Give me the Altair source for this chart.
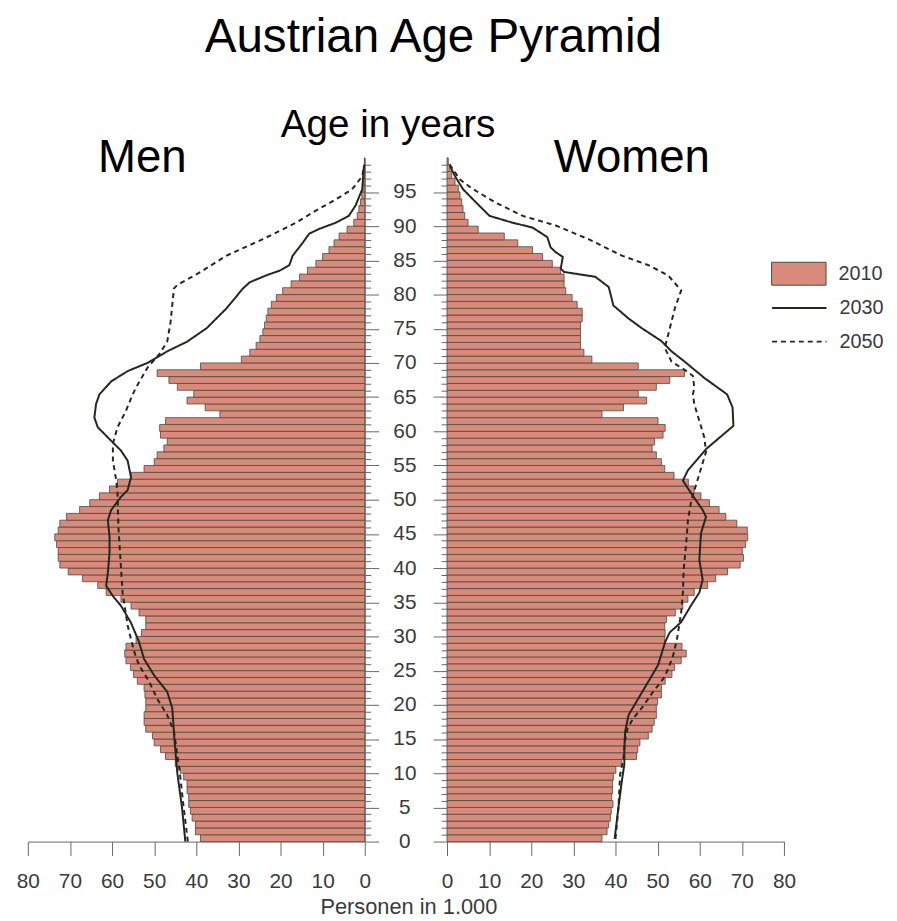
import altair as alt
import pandas as pd

# ---------------- data (thousands of persons) ----------------
ages = list(range(100))

men_2010 = [39, 40.2, 40.2, 41, 41.4, 41.8, 41.8, 42.2, 42.2, 43,
            43.8, 45, 47.3, 48.5, 50, 50.4, 52, 52.4, 52.4, 52,
            52, 52.2, 52.4, 54, 54.9, 55.6, 56.7, 57, 56.7, 54.3,
            53, 52, 52, 53.6, 55.5, 57.9, 61.4, 63.4, 67, 70.4,
            72.4, 72.8, 72.8, 73.2, 73.6, 72.8, 72.4, 70.8, 67.7, 65.3,
            63, 60.6, 58.7, 55.5, 52.4, 50, 49.3, 47.7, 46.9, 48.5,
            48.7, 47.3, 34.4, 37.9, 42.2, 40.6, 44.5, 46.5, 49.3, 39,
            29.3, 27.3, 25.8, 24.9, 24.2, 23.8, 23.4, 23, 22.2, 21,
            19.5, 17.5, 15.5, 13.6, 11.6, 10, 8.5, 7.3, 6.1, 4.2,
            2.6, 1.8, 1.4, 1.0, 0.7, 0.5, 0.35, 0.25, 0.15, 0.1]

women_2010 = [36.8, 38, 38.4, 38.8, 39, 39.4, 39.1, 39.3, 39.3, 39.5,
              40.1, 41.5, 45, 45.3, 45.8, 47.8, 48.7, 49.2, 49.7, 49.7,
              50, 50.9, 50.9, 51.8, 53.4, 54, 55.6, 56.8, 55.8, 51.7,
              51.8, 51.7, 52.1, 54.2, 56, 57.2, 58.7, 61.9, 63.8, 66.6,
              69.6, 70.4, 70.1, 70.9, 71.4, 71.3, 68.8, 66.2, 64.6, 62.3,
              60.3, 58.7, 57.3, 53.9, 51.7, 50.9, 49.7, 48.7, 49.3, 51.3,
              51.8, 50.1, 36.8, 41.9, 47.4, 45.4, 49.7, 52.9, 56.4, 45.4,
              34.4, 32.5, 31.7, 31.7, 31.7, 31.7, 32.1, 32.1, 30.9, 29.7,
              28.2, 27.8, 27.8, 27, 25, 22.7, 20.3, 16.8, 13.6, 7.4,
              5, 4.2, 3.8, 3.5, 3.1, 2.7, 1.9, 1.1, 0.7, 0.3]

men_2030_age = [0, 5, 10, 15, 19.5, 21.9, 24.3, 26.7, 29.2, 32, 34.5, 35.9, 37.4, 39.3,
                42.2, 44.6, 47, 48.5, 50.4, 51.4, 53.3, 55.7, 57.2, 58.6, 60.6, 62, 64,
                65.4, 67.3, 68.8, 70, 71.7, 73.1, 75.1, 78, 80.9, 81.8, 82.8, 83.5, 84.3,
                85.7, 87.6, 88.9, 89.6, 90.5, 91.5, 93, 95.4, 98.8]
men_2030 = [42.6, 43.4, 44.5, 45.2, 45.7, 46.9, 50, 52.4, 53.6, 55.5, 57.9, 59.8, 61.4, 61,
            60.6, 60.6, 61, 60.2, 57.9, 56.3, 55.5, 56.3, 57.9, 60.2, 63.4, 64.2, 63.8,
            63, 60.2, 56.3, 51.6, 46.9, 42.2, 37.5, 32.8, 28.9, 27.3, 23.4, 20.2, 17.9,
            17.1, 14.7, 13.2, 10.8, 6.9, 3.8, 2.2, 0.6, 0.2]

men_2050_age = [0, 5, 10, 16.1, 18.5, 20.9, 23.4, 25.8, 27.7, 29.6, 31.6, 36.4, 41.2, 46.1,
                50.9, 52.8, 55.7, 58.2, 60.6, 63, 65.4, 66.4, 69.3, 71.2, 73.1, 76, 78.5,
                80.9, 81.4, 83.3, 85.7, 88.1, 90.5, 92, 93.9, 95.4, 97.3, 99]
men_2050 = [42.0, 43, 43.9, 45.3, 46.9, 49.3, 51.2, 53.6, 54.7, 55.5, 56.3, 57.5, 58, 58.5,
            58.7, 59, 59.8, 59.8, 58.7, 56.7, 55.1, 54.3, 51.6, 48.9, 46.9, 46.1, 45.7,
            45.3, 44.5, 39, 32.8, 24.2, 16.3, 12.4, 6.9, 3, 0.6, 0.1]

women_2030_age = [0.4, 5, 8.8, 11.3, 13.7, 16.1, 18.5, 20.9, 23.4, 25.8, 29.2, 30.6, 32.1,
                  34.5, 36.4, 38.3, 41.2, 45.1, 47.5, 48.5, 50.9, 52.8, 54.3, 57.4, 60.8,
                  63.5, 65.4, 67.8, 70.2, 71.7, 73.2, 75.1, 76.5, 78.4, 81.1, 82.6, 83.3,
                  83.8, 85.5, 86.2, 86.9, 88.4, 89.8, 90.5, 91.5, 93.4, 95.4, 97.3, 98.8]
women_2030 = [39.8, 40.7, 41.5, 42.1, 42.1, 42.3, 43.1, 45.4, 47.8, 50.1, 51.8, 52.9, 55.6,
              57.9, 59.9, 60.7, 59.9, 60.3, 61.5, 60.7, 58, 56, 57.2, 61.5, 68,
              67.8, 66.5, 61.1, 56.4, 53.3, 50.9, 46.2, 43.1, 39.5, 38.4, 35.2, 27.8,
              27, 27.5, 25.8, 24.6, 23.8, 20.3, 15.6, 10.1, 7, 3.8, 1.9, 0.7]

women_2050_age = [0.4, 5, 9.8, 12.2, 14.9, 16.6, 18, 19.5, 21.7, 24.1, 27, 29.6, 33.5, 36.4,
                  39.8, 43.7, 47, 49.9, 52.1, 57, 59.1, 64, 65.4, 66.4, 68.1, 69, 70.2,
                  72.2, 74.1, 78, 80.6, 82.8, 84.3, 85.7, 88.1, 90.1, 91.5, 93.4, 95.4,
                  96.8, 99.3]
women_2050 = [40, 40.7, 41.1, 41.9, 42.3, 42.9, 44.2, 46.2, 48.7, 51.7, 53.6, 54.6, 55.6, 56,
              56.2, 56.8, 57.2, 58, 59.1, 61.5, 61.1, 58.7, 58.4, 58.7, 58.4, 56.4, 53.3,
              51.7, 52.5, 54.1, 55.6, 52.5, 47.8, 41.5, 33.6, 25.8, 18, 11.7, 6.2,
              3.1, 0.3]

# ---------------- styling ----------------
FONT = "Liberation Sans"
BAR_FILL = "#D88B7B"
BAR_STROKE = "#4f4842"
LINE = "#262620"
AXIS_GREY = "#666666"
LABEL_GREY = "#3a3a3a"


def bar_frame(values):
    return pd.DataFrame({"age": ages, "top": [a + 1 for a in ages],
                         "value": values, "year": "2010"})


def line_frame(a30, v30, a50, v50):
    return pd.DataFrame({"age": a30 + a50, "value": v30 + v50,
                         "year": ["2030"] * len(a30) + ["2050"] * len(a50)})


tick_size = {"condition": {"test": "datum.value % 5 === 0", "value": 14}, "value": 6}


def panel(bars_df, lines_df, side):
    men = side == "men"
    x_axis = alt.Axis(
        values=list(range(0, 81, 10)), tickSize=14, tickColor=AXIS_GREY,
        domainColor=AXIS_GREY, labelFontSize=21, labelColor=LABEL_GREY,
        labelFont=FONT, labelPadding=15, labelFlush=False, grid=False,
        title="Men" if men else "Personen in 1.000",
        titleX=115 if men else -39, titleY=-676 if men else 73,
        titleAlign="center", titleBaseline="alphabetic",
        titleFontSize=46 if men else 22, titleFontWeight="normal",
        titleColor="black" if men else LABEL_GREY, titleFont=FONT)
    y_axis = alt.Axis(
        orient="right" if men else "left", values=ages,
        labels=men, labelExpr="datum.value % 5 === 0 ? datum.label : ''",
        labelAlign="center", labelPadding=26, labelFontSize=21,
        labelColor=LABEL_GREY, labelFont=FONT, labelOverlap=False,
        tickSize=tick_size, tickColor=AXIS_GREY, domainColor=AXIS_GREY, grid=False,
        title="Age in years" if men else "Women", titleAngle=0,
        titleX=23 if men else 186, titleY=-21.5 if men else 13.5,
        titleAlign="center", titleBaseline="alphabetic",
        titleFontSize=39 if men else 46, titleFontWeight="normal",
        titleColor="black", titleFont=FONT)
    x_enc = alt.X("value:Q", axis=x_axis,
                  scale=alt.Scale(domain=[0, 80], reverse=men, nice=False))
    y_enc = alt.Y("age:Q", axis=y_axis,
                  scale=alt.Scale(domain=[0, 100], nice=False, zero=True))

    fill_legend = None if men else alt.Legend(
        title=None, orient="none", legendX=337, legendY=99,
        symbolType="M-1.57,-0.66H1.57V0.66H-1.57Z", symbolSize=1225,
        symbolStrokeColor=BAR_STROKE, symbolStrokeWidth=1, symbolOpacity=1,
        labelFontSize=20, labelFont=FONT, labelColor=LABEL_GREY,
        labelOffset=22, padding=0, rowPadding=0)
    dash_legend = None if men else alt.Legend(
        title=None, orient="none", legendX=337, legendY=133,
        symbolType="M-1.57,0H1.57", symbolSize=1225,
        symbolStrokeColor=LINE, symbolStrokeWidth=2, symbolOpacity=1,
        labelFontSize=20, labelFont=FONT, labelColor=LABEL_GREY,
        labelOffset=22, padding=0, rowPadding=5)

    bars = alt.Chart(bars_df).mark_rect(stroke=BAR_STROKE, strokeWidth=0.8).encode(
        x=x_enc, x2=alt.datum(0), y=y_enc, y2="top:Q",
        fill=alt.Fill("year:N", scale=alt.Scale(domain=["2010"], range=[BAR_FILL]),
                      legend=fill_legend))
    lines = alt.Chart(lines_df).mark_line(color=LINE, strokeWidth=2).encode(
        x=x_enc, y=y_enc,
        strokeDash=alt.StrokeDash("year:N",
                                  scale=alt.Scale(domain=["2030", "2050"],
                                                  range=[[1, 0], [5, 4]]),
                                  legend=dash_legend),
        order=alt.Order("age:Q"))
    return alt.layer(bars, lines).properties(width=340, height=690)


men_chart = panel(bar_frame(men_2010),
                  line_frame(men_2030_age, men_2030, men_2050_age, men_2050), "men")
women_chart = panel(bar_frame(women_2010),
                    line_frame(women_2030_age, women_2030, women_2050_age, women_2050),
                    "women")

chart = alt.hconcat(men_chart, women_chart, spacing=83, bounds="flush").resolve_scale(
    fill="independent", strokeDash="independent"
).resolve_legend(
    fill="independent", strokeDash="independent"
).properties(
    title=alt.TitleParams("Austrian Age Pyramid", fontSize=48, font=FONT,
                          fontWeight="normal", color="black", anchor="middle",
                          baseline="alphabetic", offset=6, dx=-17),
    padding={"left": 8, "top": 2, "right": 5, "bottom": 0},
).configure_view(stroke=None)

chart.save("out.html", embed_options={"renderer": "svg", "actions": False})
